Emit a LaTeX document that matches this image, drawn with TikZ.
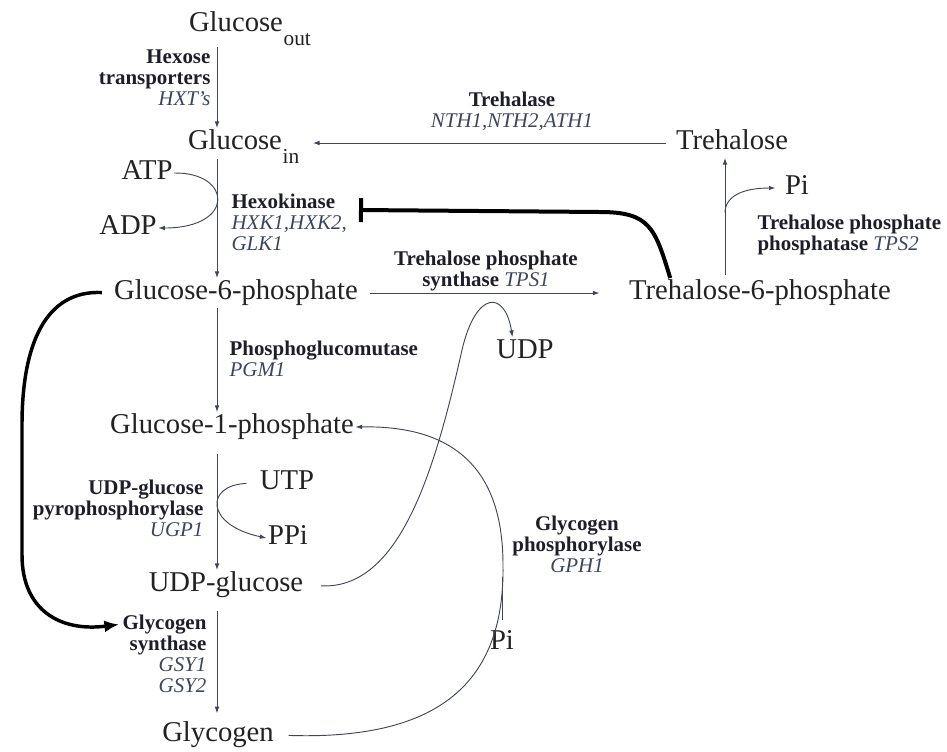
\documentclass[tikz,border=0pt]{standalone}
\usepackage{fontspec}
\setmainfont{Liberation Serif}
\usetikzlibrary{arrows.meta,calc}
\definecolor{PathInk}{HTML}{222222}
\definecolor{PathEnz}{HTML}{1E1E28}
\definecolor{PathGene}{HTML}{3E4460}
\definecolor{PathLine}{HTML}{404656}
\newcommand{\genename}[1]{{\mdseries\itshape\color{PathGene}#1}}
\newcommand{\metsub}[1]{\rlap{\hspace{0.5pt}\smash{\raisebox{-10.5pt}{\fontsize{16}{16}\selectfont#1}}}}

\begin{document}
\begin{tikzpicture}[x=0.75pt,y=-0.75pt,
    met/.style={text=PathInk,font=\fontsize{21.5}{24}\selectfont,inner sep=1pt,
      text height=15pt,text depth=5pt},
    enz/.style={text=PathEnz,font=\fontsize{15.7}{15.8}\selectfont\bfseries,inner sep=1pt},
    rxn/.style={-{Latex[length=5pt,width=3.5pt]},draw=PathLine,line width=0.7pt},
    regarr/.style={-{Latex[length=11pt,width=9pt]},draw=black,line width=2.6pt},
    inhib/.style={-{Bar[width=18pt]},draw=black,line width=3pt}
  ]
  \useasboundingbox (0,0) rectangle (947,751);
  \coordinate (axis) at (217,0);
  % metabolites
  \node[met] (gout) at (236,25) {Glucose\metsub{out}};
  \node[met] (gin) at (235,143) {Glucose\metsub{in}};
  \node[met] (atp) at (147,173) {ATP};
  \node[met] (adp) at (128,228) {ADP};
  \node[met] (g6p) at (236,293) {Glucose-6-phosphate};
  \node[met] (g1p) at (232,427) {Glucose-1-phosphate};
  \node[met] (utp) at (287,483) {UTP};
  \node[met] (ppi) at (288,538) {PPi};
  \node[met] (udpg) at (226,585) {UDP-glucose};
  \node[met] (glyc) at (218,735) {Glycogen};
  \node[met] (tre) at (732,143) {Trehalose};
  \node[met] (t6p) at (760,293) {Trehalose-6-phosphate};
  \node[met] (pit) at (797,188) {Pi};
  \node[met] (udp) at (525,352) {UDP};
  \node[met] (pib) at (502,643) {Pi};
  % enzymes
  \node[enz,anchor=east,align=right] (hxt) at (212,78)
    {Hexose\\transporters\\\genename{HXT's}};
  \node[enz,align=center] (nth) at (512,111) {Trehalase\\\genename{NTH1,NTH2,ATH1}};
  \node[enz,anchor=west,align=left] (hxk) at (230,222)
    {Hexokinase\\\genename{HXK1,HXK2,}\\\genename{GLK1}};
  \node[enz,align=center] (tps1) at (486,271) {Trehalose phosphate\\synthase \genename{TPS1}};
  \node[enz,anchor=west,align=left] (tps2) at (756,235)
    {Trehalose phosphate\\phosphatase \genename{TPS2}};
  \node[enz,anchor=west,align=left] (pgm) at (228,359) {Phosphoglucomutase\\\genename{PGM1}};
  \node[enz,anchor=east,align=right] (ugp) at (205,508)
    {UDP-glucose\\pyrophosphorylase\\\genename{UGP1}};
  \node[enz,align=center] (gph) at (577,544) {Glycogen\\phosphorylase\\\genename{GPH1}};
  \node[enz,anchor=east,align=right] (gsy) at (208,654)
    {Glycogen\\synthase\\\genename{GSY1}\\\genename{GSY2}};
  \coordinate (tpsbr) at (725,213);
  \coordinate (hxkbar) at (359,210);
  \coordinate (gphjoin) at (502,577);
  % main chain
  \draw[rxn,shorten <=5pt] (gout.south -| axis) -- (gin.north -| axis);
  \draw[rxn,shorten <=1pt] (gin.south -| axis) -- (g6p.north -| axis);
  \draw[rxn] (g6p.south -| axis) -- (g1p.north -| axis);
  \draw[rxn,shorten <=9pt] (g1p.south -| axis) -- (udpg.north -| axis);
  \draw[rxn,shorten <=8pt,shorten >=5pt] (udpg.south -| axis) -- (glyc.north -| axis);
  \draw[rxn] (atp.east) .. controls (232,172) and (236,228) .. (adp.east);
  \draw[rxn,shorten <=9pt] (utp.west) .. controls (205,485) and (205,525) .. (ppi.west);
  % trehalose branch
  \draw[rxn,shorten <=6pt] (tre.west) -- ([xshift=22pt]tre.west -| gin.east);
  \draw[rxn,shorten <=8pt,shorten >=21pt] (g6p.east) -- (t6p.west);
  \draw[rxn,shorten <=2pt] (t6p.north -| tpsbr) -- (tre.south -| tpsbr);
  \draw[rxn,shorten >=6pt] (tpsbr) .. controls (725,195) and (745,188) .. (pit.west);
  \draw[inhib] ([xshift=32pt]t6p.north west) .. controls (655,228) and (650,212) .. (600,212)
    -- (hxkbar);
  \draw[rxn,shorten <=12pt] (udpg.east) .. controls (400,590) and (435,470) .. (462,350)
    .. controls (476,290) and (505,290) .. (udp.130);
  % glycogen
  \draw[rxn,shorten <=10pt] (glyc.east) .. controls (430,740) and (505,690) .. (503,565)
    .. controls (503,480) and (465,425) .. (g1p.east);
  \draw[draw=PathLine,line width=0.7pt,shorten <=6pt] (pib.north) -- (gphjoin);
  \draw[regarr,shorten <=8pt] (g6p.west) .. controls (45,290) and (22,345) .. (22,425)
    -- (22,555) .. controls (22,610) and (60,632) .. ($(gsy.north west)+(-2,11)$);
\end{tikzpicture}
\end{document}
